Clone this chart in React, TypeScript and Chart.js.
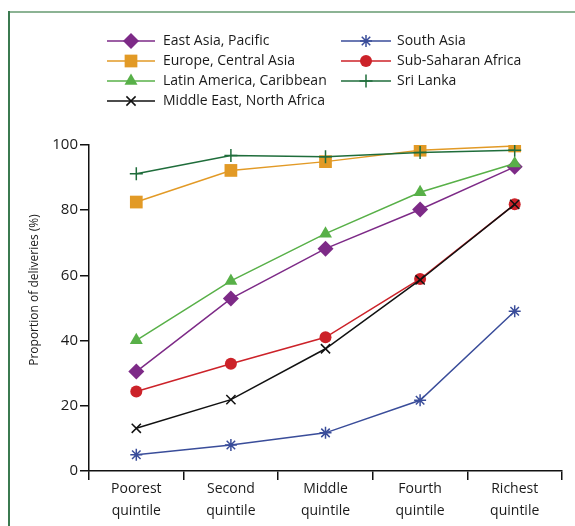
import React, { useEffect, useRef } from 'react';
import { Chart, registerables } from 'chart.js';
import { drawPoint } from 'chart.js/helpers';

Chart.register(...registerables);

const categories = [
  ['Poorest', 'quintile'],
  ['Second', 'quintile'],
  ['Middle', 'quintile'],
  ['Fourth', 'quintile'],
  ['Richest', 'quintile'],
];
const seriesNames = [
  'East Asia, Pacific',
  'Europe, Central Asia',
  'Latin America, Caribbean',
  'Middle East, North Africa',
  'South Asia',
  'Sub-Saharan Africa',
  'Sri Lanka',
];
const eastAsiaPacific = [30.5, 52.9, 68.2, 80.2, 93.3];
const europeCentralAsia = [82.5, 92.2, 94.9, 98.4, 99.7];
const latinAmericaCaribbean = [40.1, 58.3, 72.8, 85.5, 94.3];
const middleEastNorthAfrica = [13.1, 21.9, 37.5, 58.6, 81.8];
const southAsia = [5.0, 8.0, 11.7, 21.7, 49.0];
const subSaharanAfrica = [24.4, 32.9, 41.0, 58.9, 81.8];
const sriLanka = [91.2, 96.8, 96.4, 97.7, 98.4];
const yTicks = [0, 20, 40, 60, 80, 100];
const yTitle = 'Proportion of deliveries (%)';

const FONT = "'Open Sans', 'Noto Sans', sans-serif";

const styles = [
  { color: '#7d2a87', point: 'rectRot', radius: 8, bw: 0, order: 6 },
  { color: '#e29a26', point: 'rect', radius: 9, bw: 0, order: 5 },
  { color: '#58b048', point: 'triangle', radius: 7.5, bw: 0, order: 2 },
  { color: '#111111', point: 'crossRot', radius: 6.5, bw: 1.5, order: 1 },
  { color: '#3a4d9a', point: 'star', radius: 6, bw: 1.5, order: 3 },
  { color: '#cc2229', point: 'circle', radius: 6, bw: 0, order: 4 },
  { color: '#1f6d3b', point: 'cross', radius: 6.5, bw: 1.5, order: 0 },
];

const framePlugin = {
  id: 'frame',
  beforeDraw(chart: any) {
    const ctx = chart.ctx;
    ctx.save();
    ctx.fillStyle = '#ffffff';
    ctx.fillRect(0, 0, chart.width, chart.height);
    ctx.fillStyle = '#8cb394';
    ctx.fillRect(9, 11, chart.width - 9, 2);
    ctx.fillStyle = '#3b7a50';
    ctx.fillRect(8, 11, 2, chart.height - 11);
    ctx.restore();
  },
  afterDraw(chart: any) {
    const ctx = chart.ctx;
    const area = chart.chartArea;
    ctx.save();
    ctx.translate(35, (area.top + area.bottom) / 2 - 18);
    ctx.rotate(-Math.PI / 2);
    ctx.fillStyle = '#1a1a1a';
    ctx.font = `12px ${FONT}`;
    ctx.textAlign = 'center';
    ctx.textBaseline = 'middle';
    ctx.fillText(yTitle, 0, 0);
    ctx.restore();
  },
};

const legendPlugin = {
  id: 'lineLegend',
  afterDraw(chart: any) {
    const ctx = chart.ctx;
    const cols = [
      { x0: 107, x1: 155, mx: 131, tx: 163 },
      { x0: 341, x1: 391, mx: 366, tx: 397 },
    ];
    const rows = [41, 61, 81, 101];
    chart.data.datasets.forEach((ds: any, i: number) => {
      const col = cols[i < 4 ? 0 : 1];
      const y = rows[i < 4 ? i : i - 4];
      ctx.save();
      ctx.strokeStyle = ds.borderColor;
      ctx.lineWidth = 1.5;
      ctx.beginPath();
      ctx.moveTo(col.x0, y);
      ctx.lineTo(col.x1, y);
      ctx.stroke();
      ctx.fillStyle = ds.pointBackgroundColor;
      ctx.strokeStyle = ds.pointBorderColor;
      ctx.lineWidth = ds.pointBorderWidth;
      drawPoint(ctx, { pointStyle: ds.pointStyle, radius: ds.pointRadius, borderWidth: ds.pointBorderWidth, rotation: 0 }, col.mx, y);
      ctx.fillStyle = '#1a1a1a';
      ctx.font = `14px ${FONT}`;
      ctx.textBaseline = 'middle';
      ctx.textAlign = 'left';
      ctx.fillText(ds.label, col.tx, y);
      ctx.restore();
    });
  },
};

export default function App() {
  const ref = useRef<HTMLCanvasElement>(null);
  useEffect(() => {
    document.body.style.margin = '0';
    const values = [
      eastAsiaPacific,
      europeCentralAsia,
      latinAmericaCaribbean,
      middleEastNorthAfrica,
      southAsia,
      subSaharanAfrica,
      sriLanka,
    ];
    const datasets = values.map((data, i) => {
      const s = styles[i];
      return {
        label: seriesNames[i],
        data,
        order: s.order,
        borderColor: s.color,
        borderWidth: 1.5,
        pointStyle: s.point,
        pointRadius: s.radius,
        pointHoverRadius: s.radius,
        pointBackgroundColor: s.color,
        pointBorderColor: s.color,
        pointBorderWidth: s.bw,
        tension: 0,
        fill: false,
      };
    });
    const chart = new Chart(ref.current as HTMLCanvasElement, {
      type: 'line',
      data: { labels: categories, datasets },
      plugins: [framePlugin, legendPlugin],
      options: {
        responsive: false,
        animation: false,
        layout: { padding: { left: 0, top: 145, right: 13, bottom: 0 } },
        plugins: { legend: { display: false }, tooltip: { enabled: false } },
        scales: {
          x: {
            type: 'category',
            offset: true,
            grid: { display: true, offset: true, drawOnChartArea: false, tickLength: 9, color: '#111', lineWidth: 1.5 },
            border: { display: true, color: '#111', width: 1.5 },
            ticks: { color: '#1a1a1a', font: { family: FONT, size: 14, lineHeight: 1.55 }, padding: -2, maxRotation: 0, autoSkip: false },
            afterFit: (s: any) => { s.height = 55; },
          },
          y: {
            min: 0,
            max: 100,
            afterBuildTicks: (s: any) => { s.ticks = yTicks.map((v) => ({ value: v })); },
            grid: { display: true, drawOnChartArea: false, tickLength: 9, color: '#111', lineWidth: 1.5 },
            border: { display: true, color: '#111', width: 1.5 },
            ticks: { color: '#1a1a1a', font: { family: FONT, size: 15 }, padding: 2 },
            afterFit: (s: any) => { s.width = 89; },
          },
        },
      },
    } as any);
    return () => chart.destroy();
  }, []);
  return <canvas ref={ref} width={575} height={526} style={{ display: 'block' }} />;
}
